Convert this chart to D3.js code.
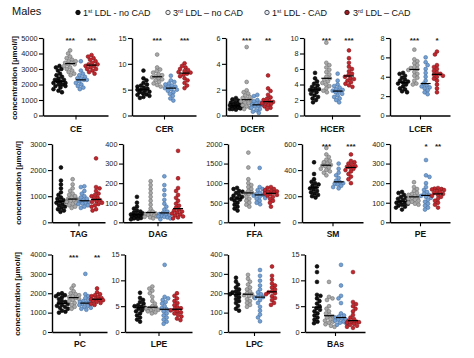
<!DOCTYPE html>
<html><head><meta charset="utf-8">
<script src="https://cdn.jsdelivr.net/npm/d3@7"></script>
<style>body{margin:0;background:#fff;} svg{display:block;font-family:"Liberation Sans",Arial,sans-serif;}</style>
</head><body><svg id="c" width="474" height="358"></svg>
<script>
// ---------- DATA ----------
const groupNames = ["1st LDL - no CAD", "3rd LDL \u2013 no CAD", "1st LDL - CAD", "3rd LDL \u2013 CAD"];
const lipids = ["CE","CER","DCER","HCER","LCER","TAG","DAG","FFA","SM","PE","PC","LPE","LPC","BAs"];
const yMax = [5000,15,6,10,8,3000,400,2000,600,400,4000,15,400,15];
const yTicks = [
  [0,1000,2000,3000,4000,5000],[0,5,10,15],[0,2,4,6],[0,2,4,6,8,10],[0,2,4,6,8],
  [0,1000,2000,3000],[0,100,200,300,400],[0,500,1000,1500,2000],[0,200,400,600],[0,100,200,300,400],
  [0,1000,2000,3000,4000],[0,5,10,15],[0,100,200,300,400],[0,5,10,15]
];
const stars = [
  ["","***","","***"],["","***","","***"],["","***","","**"],["","***","","***"],["","***","","*"],
  ["","","",""],["","","",""],["","","",""],["","***","","***"],["","","*","**"],
  ["","***","","**"],["","","",""],["","","",""],["","","",""]
];
const CE = [
  [3200,3100,3000,2900,2700,2600,2500,2400,2300,2300,2200,2200,2100,2100,2000,2000,1900,1900,1800,1700,1600,1500],
  [4200,4000,3800,3700,3600,3500,3500,3400,3400,3300,3300,3200,3100,3000,2900,2800,2700,2600],
  [3500,2900,2700,2600,2500,2400,2400,2300,2300,2200,2100,2000,1900,1800,1700],
  [3900,3800,3700,3600,3500,3400,3300,3300,3200,3200,3100,3000,3000,2900,2800,2700]];
const CER = [
  [8.7,7.2,6.8,6.3,6.0,5.8,5.6,5.4,5.2,5.0,5.0,4.8,4.6,4.5,4.3,4.1,4.0,3.8,3.6,3.4],
  [11.8,9.3,8.9,8.6,8.3,8.0,7.8,7.6,7.4,7.2,7.0,6.8,6.5,6.2,5.9,5.6],
  [7.7,6.8,6.5,6.2,6.0,5.8,5.6,5.5,5.3,5.1,5.0,4.8,4.5,4.2,3.8,3.3,2.9],
  [10.1,9.6,9.3,9.0,8.8,8.6,8.4,8.3,8.1,7.9,7.6,7.2,6.8,6.3,5.8,5.3]];
const DCER = [
  [1.35,1.25,1.15,1.05,1.0,0.95,0.9,0.85,0.8,0.75,0.72,0.7,0.65,0.6,0.6,0.55,0.5,0.5,0.45],
  [5.3,2.6,1.95,1.8,1.7,1.55,1.45,1.35,1.25,1.2,1.1,1.0,0.95,0.9,0.8,0.7,0.6,0.5],
  [1.6,1.5,1.2,1.1,1.0,0.95,0.9,0.85,0.8,0.75,0.7,0.6,0.5,0.4,0.3,0.2],
  [3.1,2.1,1.9,1.6,1.4,1.3,1.2,1.1,1.05,1.0,0.95,0.9,0.8,0.7,0.6,0.5]];
const HCER = [
  [5.5,4.8,4.4,4.1,3.9,3.7,3.5,3.4,3.3,3.2,3.0,2.8,2.6,2.4,2.2,2.0,1.7],
  [9.4,6.8,6.5,6.2,5.9,5.6,5.3,5.0,4.8,4.6,4.4,4.2,4.0,3.8,3.5,3.2,3.0],
  [5.4,4.5,4.0,3.8,3.6,3.4,3.3,3.2,3.1,3.0,2.8,2.6,2.4,2.2,2.0,1.7],
  [8.4,7.4,6.8,6.3,6.0,5.7,5.4,5.2,5.0,4.8,4.7,4.5,4.3,4.1,3.9,3.7]];
const LCER = [
  [4.4,4.3,4.1,3.9,3.7,3.6,3.5,3.4,3.3,3.2,3.0,2.8,2.7,2.5,2.4],
  [6.8,5.8,5.6,5.4,5.2,5.0,4.9,4.8,4.7,4.5,4.3,4.1,3.9,3.6,3.3,3.2],
  [6.0,5.5,5.2,4.8,4.4,4.0,3.6,3.3,3.1,3.0,2.9,2.8,2.6,2.4,2.2],
  [6.6,6.3,5.2,5.0,4.8,4.6,4.4,4.3,4.2,4.1,4.0,3.8,3.6,3.2,2.8,2.4]];
const TAG = [
  [2100,1600,1450,1300,1150,1050,950,900,850,800,780,750,700,650,600,550,500,450,400],
  [1650,1450,1300,1200,1100,1050,1000,950,900,880,850,820,780,750,700,650,600,550],
  [1380,1350,1200,1100,1000,950,900,850,800,780,750,720,700,650,600,550],
  [2450,1350,1300,1200,1100,1050,1000,950,900,850,800,780,750,700,650,600,500,450]];
const DAG = [
  [130,100,80,70,60,55,50,45,42,40,38,35,32,30,28,25,22,20,18,15],
  [210,190,170,150,130,110,90,70,55,50,45,42,40,38,35,30,28,25,20],
  [235,190,165,140,115,95,80,65,55,48,42,38,35,32,30,28,25,20,15],
  [365,225,175,160,140,125,110,95,85,75,65,60,55,50,45,40,35,30,25,20]];
const FFA = [
  [880,850,800,780,750,700,680,650,620,600,580,550,500,450,400,350,300],
  [1780,1400,1100,1000,950,900,850,800,760,740,720,700,650,600,550,500,450,400],
  [1390,900,850,820,780,750,720,700,680,650,620,600,550,500,460],
  [900,880,850,820,800,790,780,760,740,720,700,680,650,600,550,500,400]];
const SM = [
  [460,370,330,310,300,290,280,270,260,250,240,230,220,210,200,190],
  [570,520,500,480,470,460,450,440,435,430,420,410,400,390,380,360],
  [450,410,380,360,340,320,310,300,295,290,280,270,260],
  [520,470,460,450,440,430,425,420,410,400,390,370,350,330,300]];
const PE = [
  [155,150,140,130,125,120,115,110,105,100,100,95,90,85,80,75,65],
  [205,180,170,160,150,145,140,135,130,125,120,115,110,105,100,95,90],
  [318,240,232,200,180,165,155,145,140,135,130,125,115,105,95,85,75,65],
  [175,172,170,168,165,160,155,150,145,140,135,130,120,110,100,90,75]];
const PC = [
  [2000,1950,1900,1850,1800,1700,1600,1550,1500,1450,1400,1350,1300,1250,1200,1100,1050,1000],
  [2400,2250,2100,2000,1950,1900,1850,1800,1750,1700,1650,1600,1500,1400,1300,1200],
  [3000,1950,1850,1750,1650,1600,1550,1500,1480,1450,1400,1350,1300,1250,1200,1150],
  [2250,2050,1950,1900,1850,1800,1750,1700,1680,1660,1640,1600,1550,1500,1450,1400]];
const LPE = [
  [7.6,6.6,6.2,5.8,5.5,5.2,5.0,4.9,4.7,4.5,4.2,4.0,3.6,3.2,2.8,2.4,2.0],
  [8.8,8.4,8.0,7.5,6.8,6.0,5.5,5.0,4.8,4.6,4.5,4.4,4.3,4.2,4.0,3.8,3.6],
  [13.0,6.8,6.5,6.2,5.8,5.5,5.0,4.6,4.4,4.2,4.0,3.6,3.2,2.8,2.4,2.0,1.6],
  [7.5,7.0,6.5,6.0,5.6,5.2,4.8,4.6,4.4,4.2,4.0,3.8,3.6,3.3,3.0,2.6,2.3]];
const LPC = [
  [280,260,245,230,220,210,205,200,195,190,180,170,160,150,135,120,110],
  [295,275,260,245,230,220,210,200,195,190,185,180,170,160,150,140,130],
  [320,290,265,240,220,205,195,185,180,175,165,150,130,110,90,75,55],
  [338,290,270,250,240,230,220,210,205,200,195,185,175,165,150,140]];
const BAs = [
  [12.7,11.6,9.7,7.2,7.0,6.5,6.0,5.5,5.0,4.6,4.3,4.0,3.6,3.2,2.8,2.4,2.0,1.7],
  [9.7,6.8,6.5,6.2,5.0,4.5,4.0,3.6,3.3,3.0,2.8,2.5,2.2,2.0,1.8,1.5,1.2,1.0],
  [13.0,9.0,7.0,6.5,5.6,3.6,3.2,3.0,2.8,2.6,2.5,2.4,2.2,2.0,1.8,1.6,1.4],
  [11.6,5.8,5.4,5.0,4.5,4.0,3.3,2.8,2.5,2.2,2.0,2.0,1.9,1.8,1.6,1.4,1.2,1.0,0.8]];
const seriesValues = [CE,CER,DCER,HCER,LCER,TAG,DAG,FFA,SM,PE,PC,LPE,LPC,BAs];

// ---------- LAYOUT / STYLE ----------
const rows = [
  {top:38, zero:115.5, pad:6.2, tx:16.5, ty:78},
  {top:144, zero:222.3, pad:5, tx:21, ty:183},
  {top:254.5, zero:332, pad:5.2, tx:19.5, ty:294}
];
const layout = [
  {row:0,x0:43,cx:75.5,sp:10.7},{row:0,x0:132,cx:164,sp:13.7},{row:0,x0:226,cx:252,sp:10.7},
  {row:0,x0:304,cx:332,sp:11.3},{row:0,x0:390,cx:420,sp:11.3},
  {row:1,x0:52,cx:78.5,sp:11.7},{row:1,x0:123,cx:157.5,sp:13.7},{row:1,x0:228,cx:254,sp:11.3},
  {row:1,x0:302,cx:332.5,sp:12.3},{row:1,x0:390,cx:420,sp:12},
  {row:2,x0:52,cx:79.5,sp:11.7},{row:2,x0:125,cx:158.5,sp:12.3},{row:2,x0:228,cx:254,sp:12},
  {row:2,x0:305,cx:335,sp:12}
];
const colors = [
  {fill:"#111",stroke:"#000"},{fill:"#a9a9a9",stroke:"#707070"},
  {fill:"#74a0d4",stroke:"#46719f"},{fill:"#c5252c",stroke:"#7d1519"}
];

const svg = d3.select("#c");

function swarm(vals, y, cx){
  const minD = 3.5;
  const pts = vals.map(v=>({v, y:y(v)})).sort((a,b)=>a.y-b.y);
  const placed = [];
  pts.forEach((p,k)=>{
    const cands = d3.range(-6,6.01,0.5).sort((a,b)=>Math.abs(a)-Math.abs(b) || (k%2? a-b : b-a));
    let best = 0, bestD = -1;
    for(const o of cands){
      let md = Infinity;
      for(const q of placed){ const d = Math.hypot(q.x-(cx+o), q.y-p.y); if(d<md) md=d; }
      if(md>=minD){ best=o; break; }
      if(md>bestD){ bestD=md; best=o; }
    }
    p.x = cx+best; placed.push(p);
  });
  return placed;
}

lipids.forEach((name,i)=>{
  const L = layout[i], R = rows[L.row];
  const g = svg.append("g");
  const y = d3.scaleLinear().domain([0,yMax[i]]).range([R.zero,R.top]);
  const xg = d3.scaleBand().domain(groupNames).range([L.cx-2*L.sp, L.cx+2*L.sp]);
  const xp = d3.scalePoint().domain([name]).range([L.x0, 2*L.cx-L.x0]);

  // dots
  seriesValues[i].forEach((vals,j)=>{
    const c = xg(groupNames[j]) + xg.bandwidth()/2;
    const pts = swarm(vals,y,c);
    g.append("g").selectAll("circle").data(pts).join("circle")
      .attr("cx",d=>d.x).attr("cy",d=>d.y).attr("r",1.9)
      .attr("fill",colors[j].fill).attr("stroke",colors[j].stroke).attr("stroke-width",0.6);
    const m = y(d3.median(vals));
    g.append("line").attr("x1",c-5).attr("x2",c+5).attr("y1",m).attr("y2",m)
      .attr("stroke","#000").attr("stroke-width",1.2);
    if(stars[i][j]) g.append("text").attr("x",c).attr("y",R.top+5)
      .attr("text-anchor","middle").attr("font-size",8).attr("font-weight","bold")
      .attr("fill","#222").text(stars[i][j]);
  });

  // axes
  const ay = g.append("g").attr("transform",`translate(${L.x0},0)`)
    .call(d3.axisLeft(y).tickValues(yTicks[i]).tickSize(4).tickSizeOuter(0).tickPadding(1.5).tickFormat(d3.format("d")));
  ay.selectAll("text").attr("font-size",7.3).attr("fill","#222").attr("font-family",null);
  ay.select(".domain").attr("stroke-width",1.4);
  ay.selectAll(".tick line").attr("stroke-width",1.1);
  const ax = g.append("g").attr("transform",`translate(0,${R.zero})`)
    .call(d3.axisBottom(xp).tickSize(4).tickSizeOuter(0).tickPadding(R.pad));
  ax.selectAll("text").attr("font-size",8.5).attr("font-weight","bold").attr("fill","#111").attr("font-family",null);
  ax.select(".domain").attr("stroke-width",1.4);
  ax.selectAll(".tick line").attr("stroke-width",1.1);
});

// y titles (first column)
rows.forEach(R=>{
  svg.append("text").attr("transform",`translate(${R.tx},${R.ty}) rotate(-90)`)
    .attr("text-anchor","middle").attr("font-size",8).attr("font-weight","bold").attr("fill","#111")
    .text("concentration [\u00b5mol/l]");
});

// title + legend
svg.append("text").attr("x",12).attr("y",15).attr("font-size",11).attr("fill","#111").text("Males");
const legPos = [{mx:78,tx:83},{mx:168,tx:173},{mx:267,tx:272},{mx:347,tx:353}];
const legMarker = [
  {fill:"#111",stroke:"#000"},{fill:"#eee",stroke:"#444"},{fill:"#e4e8f0",stroke:"#3c4450"},{fill:"#9a1c22",stroke:"#3a1010"}
];
const legParts = [["1","st"," LDL - no CAD"],["3","rd"," LDL \u2013 no CAD"],["1","st"," LDL - CAD"],["3","rd"," LDL \u2013 CAD"]];
legPos.forEach((p,k)=>{
  svg.append("circle").attr("cx",p.mx).attr("cy",12.5).attr("r",2.2)
    .attr("fill",legMarker[k].fill).attr("stroke",legMarker[k].stroke).attr("stroke-width",0.9);
  const t = svg.append("text").attr("x",p.tx).attr("y",16).attr("font-size",9).attr("fill","#111");
  t.append("tspan").text(legParts[k][0]);
  t.append("tspan").attr("font-size",5.5).attr("dy",-3.3).text(legParts[k][1]);
  t.append("tspan").attr("dy",3.3).text(legParts[k][2]);
});
</script></body></html>
